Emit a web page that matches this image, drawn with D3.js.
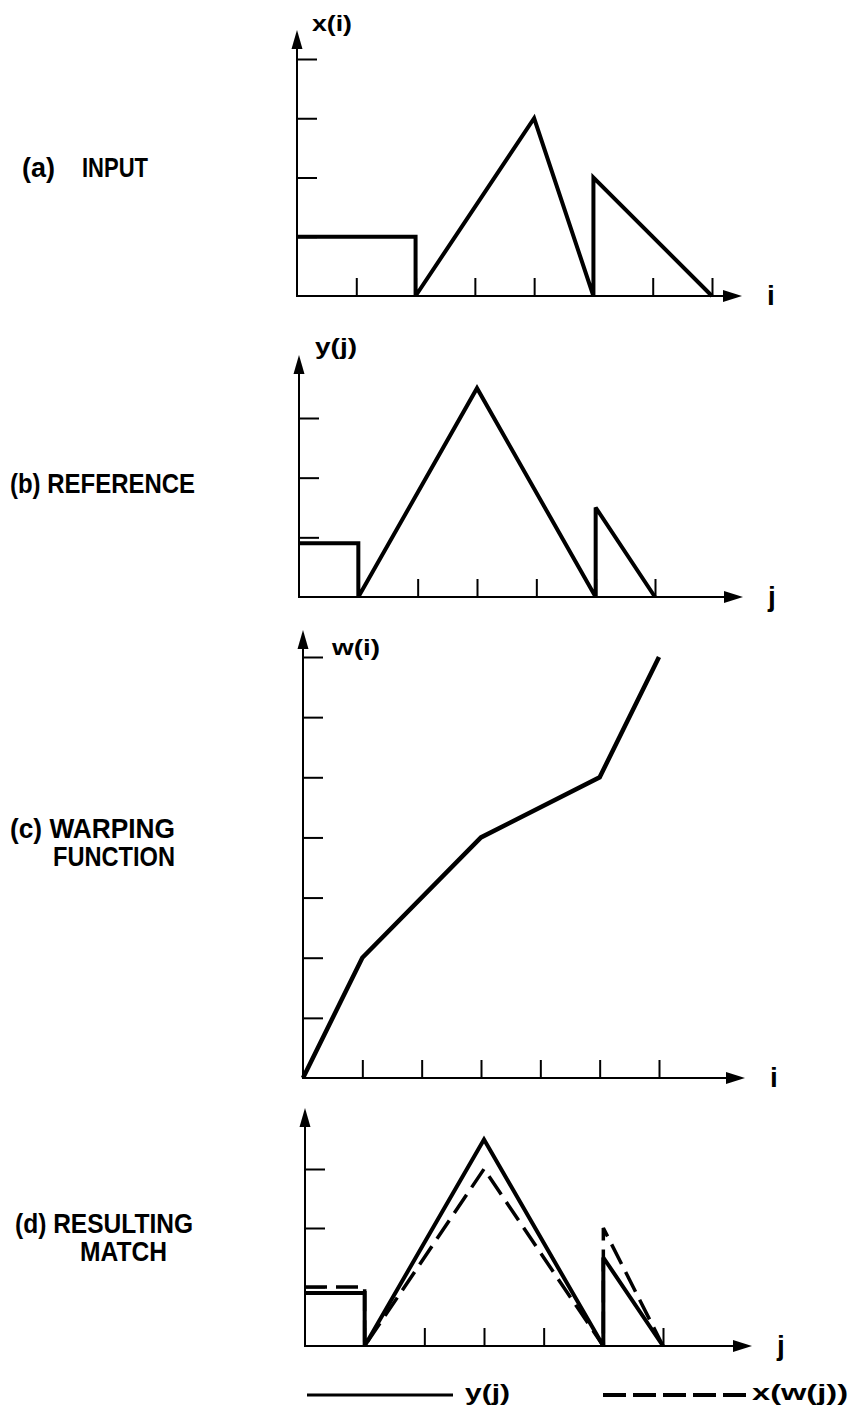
<!DOCTYPE html>
<html>
<head>
<meta charset="utf-8">
<script src="https://cdn.jsdelivr.net/npm/d3@7"></script>
<style>
  html, body { margin: 0; padding: 0; background: #fff; }
  svg { display: block; }
  text { font-family: "Liberation Sans", Arial, sans-serif; font-weight: bold; fill: #000; }
</style>
</head>
<body>
<script>
// (a) input signal x(i)
const inputI = [0, 2, 2, 4, 5, 5, 7];
const inputX = [1, 1, 0, 3, 0, 2, 0];

// (b) reference signal y(j)
const refJ = [0, 1, 1, 3, 5, 5, 6];
const refY = [0.9, 0.9, 0, 3.5, 0, 1.5, 0];

// (c) warping function w(i)
const warpI = [0, 1, 3, 5, 6];
const warpW = [0, 2, 4, 5, 7];

// (d) warped input x(w(j)) laid over y(j)
const matchJ = [0, 1, 1, 3, 5, 5, 6];
const matchX = [1, 1, 0, 3, 0, 2, 0];

// tick counts per panel
const xTicksA = [1, 2, 3, 4, 5, 6, 7];
const yTicksA = [1, 2, 3, 4];
const xTicksB = [1, 2, 3, 4, 5, 6];
const yTicksB = [1, 2, 3];
const xTicksC = [1, 2, 3, 4, 5, 6];
const yTicksC = [1, 2, 3, 4, 5, 6, 7];
const xTicksD = [1, 2, 3, 4, 5, 6];
const yTicksD = [1, 2, 3];

const W = 859, H = 1415;
const svg = d3.select("body").append("svg").attr("width", W).attr("height", H);

const pts = (xs, ys) => xs.map((x, k) => [x, ys[k]]);

function panel(o) {
  const g = svg.append("g");
  const x = d3.scaleLinear().domain(o.xDomain).range([o.ox, o.xEnd]);
  const y = d3.scaleLinear().domain(o.yDomain).range([o.oy, o.yEnd]);

  // tick marks (no labels)
  g.append("g").attr("transform", `translate(0,${o.oy})`)
    .call(d3.axisBottom(x).tickValues(o.xTicks).tickSize(-18).tickSizeOuter(0).tickFormat(""))
    .call(s => s.select(".domain").remove())
    .call(s => s.selectAll(".tick line").attr("stroke", "#000").attr("stroke-width", 2));
  g.append("g").attr("transform", `translate(${o.ox},0)`)
    .call(d3.axisLeft(y).tickValues(o.yTicks).tickSize(-20).tickSizeOuter(0).tickFormat(""))
    .call(s => s.select(".domain").remove())
    .call(s => s.selectAll(".tick line").attr("stroke", "#000").attr("stroke-width", 2));

  // axis lines with arrowheads
  g.append("line").attr("x1", o.ox - 1).attr("x2", o.right - 16)
    .attr("y1", o.oy).attr("y2", o.oy).attr("stroke", "#000").attr("stroke-width", 2);
  g.append("line").attr("x1", o.ox).attr("x2", o.ox)
    .attr("y1", o.oy + 1).attr("y2", o.top + 16).attr("stroke", "#000").attr("stroke-width", 2);
  g.append("path")
    .attr("d", `M${o.right},${o.oy} L${o.right - 19},${o.oy - 6} L${o.right - 19},${o.oy + 6} Z`)
    .attr("fill", "#000");
  g.append("path")
    .attr("d", `M${o.ox},${o.top} L${o.ox - 5.5},${o.top + 19} L${o.ox + 5.5},${o.top + 19} Z`)
    .attr("fill", "#000");

  const line = d3.line().x(d => x(d[0])).y(d => y(d[1]));
  (o.series || []).forEach(s => {
    g.append("path").datum(s.data).attr("d", line)
      .attr("fill", "none").attr("stroke", "#000")
      .attr("stroke-width", s.width || 4)
      .attr("stroke-linejoin", "miter").attr("stroke-miterlimit", 3)
      .attr("stroke-dasharray", s.dash || null);
  });

  // y-axis name and x-axis variable
  if (o.yName) {
    g.append("text").attr("x", o.yName.x).attr("y", o.yName.y)
      .attr("font-size", 22).attr("textLength", o.yName.w).attr("lengthAdjust", "spacingAndGlyphs")
      .text(o.yName.t);
  }
  g.append("text").attr("x", o.right + 29).attr("y", o.oy + 9)
    .attr("text-anchor", "middle").attr("font-size", 28).text(o.xName);
  return { x, y };
}

panel({
  ox: 297, oy: 296, xEnd: 712, yEnd: 59, xDomain: [0, 7], yDomain: [0, 4],
  top: 30, right: 742, xTicks: xTicksA, yTicks: yTicksA,
  yName: { t: "x(i)", x: 312, y: 31, w: 40 }, xName: "i",
  series: [{ data: pts(inputI, inputX) }]
});

panel({
  ox: 299, oy: 597, xEnd: 655, yEnd: 418, xDomain: [0, 6], yDomain: [0, 3],
  top: 355, right: 743, xTicks: xTicksB, yTicks: yTicksB,
  yName: { t: "y(j)", x: 315, y: 354, w: 42 }, xName: "j",
  series: [{ data: pts(refJ, refY) }]
});

panel({
  ox: 303, oy: 1078, xEnd: 659, yEnd: 657, xDomain: [0, 6], yDomain: [0, 7],
  top: 630, right: 745, xTicks: xTicksC, yTicks: yTicksC,
  yName: { t: "w(i)", x: 332, y: 655, w: 48 }, xName: "i",
  series: [{ data: pts(warpI, warpW), width: 4.5 }]
});

panel({
  ox: 305, oy: 1346, xEnd: 663, yEnd: 1169, xDomain: [0, 6], yDomain: [0, 3],
  top: 1108, right: 752, xTicks: xTicksD, yTicks: yTicksD,
  xName: "j",
  series: [
    { data: pts(matchJ, matchX), width: 3.5, dash: "22,9" },
    { data: pts(refJ, refY), width: 4 }
  ]
});

// panel captions
const captions = [
  { t: "(a)", x: 22, y: 177, w: 33 },
  { t: "INPUT", x: 82, y: 177, w: 66 },
  { t: "(b) REFERENCE", x: 10, y: 493, w: 185 },
  { t: "(c) WARPING", x: 10, y: 838, w: 165 },
  { t: "FUNCTION", x: 53, y: 866, w: 122 },
  { t: "(d) RESULTING", x: 15, y: 1233, w: 178 },
  { t: "MATCH", x: 80, y: 1261, w: 87 }
];
svg.append("g").selectAll("text").data(captions).join("text")
  .attr("x", d => d.x).attr("y", d => d.y)
  .attr("font-size", 28)
  .attr("textLength", d => d.w).attr("lengthAdjust", "spacingAndGlyphs")
  .text(d => d.t);

// legend
const lg = svg.append("g");
lg.append("line").attr("x1", 307).attr("x2", 453).attr("y1", 1395).attr("y2", 1395)
  .attr("stroke", "#000").attr("stroke-width", 3);
lg.append("text").attr("x", 465).attr("y", 1400).attr("font-size", 22)
  .attr("textLength", 45).attr("lengthAdjust", "spacingAndGlyphs").text("y(j)");
lg.append("line").attr("x1", 603).attr("x2", 746).attr("y1", 1395).attr("y2", 1395)
  .attr("stroke", "#000").attr("stroke-width", 4).attr("stroke-dasharray", "23,7");
lg.append("text").attr("x", 752).attr("y", 1400).attr("font-size", 22)
  .attr("textLength", 96).attr("lengthAdjust", "spacingAndGlyphs").text("x(w(j))");
</script>
</body>
</html>
